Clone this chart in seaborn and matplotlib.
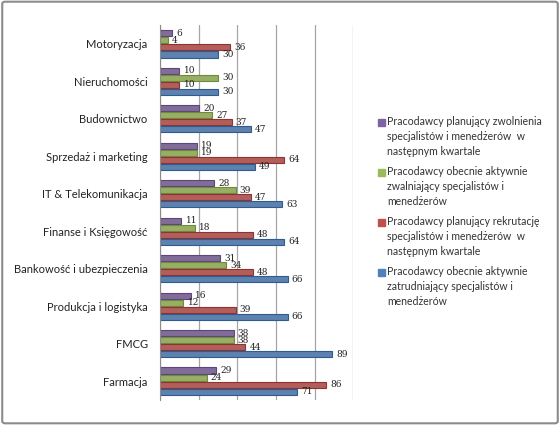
import pandas as pd
import matplotlib.pyplot as plt
import matplotlib.patches as mpatches
import seaborn as sns

# Sectors, top to bottom
sectors = ["Motoryzacja", "Nieruchomości", "Budownictwo", "Sprzedaż i marketing",
           "IT & Telekomunikacja", "Finanse i Księgowość", "Bankowość i ubezpieczenia",
           "Produkcja i logistyka", "FMCG", "Farmacja"]

# Series values (percent of employers)
planned_layoffs = [6, 10, 20, 19, 28, 11, 31, 16, 38, 29]
current_layoffs = [4, 30, 27, 19, 39, 18, 34, 12, 38, 24]
planned_hiring = [36, 10, 37, 64, 47, 48, 48, 39, 44, 86]
current_hiring = [30, 30, 47, 49, 63, 64, 66, 66, 89, 71]

series_names = [
    "Pracodawcy planujący zwolnienia\nspecjalistów i menedżerów  w\nnastępnym kwartale",
    "Pracodawcy obecnie aktywnie\nzwalniający specjalistów i\nmenedżerów",
    "Pracodawcy planujący rekrutację\nspecjalistów i menedżerów  w\nnastępnym kwartale",
    "Pracodawcy obecnie aktywnie\nzatrudniający specjalistów i\nmenedżerów",
]
colors = ["#8064A2", "#9BBB59", "#C0504D", "#4F81BD"]
edges = ["#5C4776", "#6F8A3C", "#8E3331", "#2F5C90"]

rows = []
for name, vals in zip(series_names, [planned_layoffs, current_layoffs, planned_hiring, current_hiring]):
    for s, v in zip(sectors, vals):
        rows.append({"sector": s, "series": name, "value": v})
df = pd.DataFrame(rows)

sns.set_style("white")
plt.rcParams['font.family'] = ['Lato', 'DejaVu Sans']

fig = plt.figure(figsize=(5.6, 4.25), dpi=100)
ax = fig.add_axes([0.286, 0.059, 0.345, 0.882])

sns.barplot(data=df, y="sector", x="value", hue="series", order=sectors,
            hue_order=series_names, palette=colors, orient="h",
            width=0.76, gap=0.15, ax=ax, legend=False, errorbar=None)

for cont, ec in zip(ax.containers, edges):
    for bar in cont:
        bar.set_edgecolor(ec)
        bar.set_linewidth(0.8)
    ax.bar_label(cont, padding=3, fontsize=6.5, family="DejaVu Serif", color="#222222")

ax.set_xlim(0, 100)
ax.set_ylim(len(sectors) - 0.5, -0.5)
ax.set_xticks(range(0, 101, 20))
ax.set_xticklabels([])
ax.xaxis.grid(True, color="#A6A6A6", linewidth=0.9)
ax.set_axisbelow(True)
ax.set_xlabel("")
ax.set_ylabel("")
for side in ["top", "right", "bottom"]:
    ax.spines[side].set_visible(False)
ax.spines["left"].set_color("#8C8C8C")
ax.tick_params(axis="y", length=0, labelsize=8, pad=9, labelcolor="#222222")
ax.set_yticks([i + 0.5 for i in range(-1, len(sectors))], minor=True)
ax.tick_params(axis="y", which="minor", length=4, color="#8C8C8C")
ax.tick_params(axis="x", length=4, color="#8C8C8C", direction="out")

# legend drawn by hand so the square sits by the first text line
for i, (c, n) in enumerate(zip(colors, series_names)):
    y_top = 1 - (116 + 50 * i) / 425
    fig.text(0.691, y_top, n, fontsize=7.6, color="#333333", va="top",
             linespacing=1.45)
    fig.patches.append(mpatches.Rectangle((0.6745, y_top - 0.0235), 0.0125, 0.0165,
                                          transform=fig.transFigure, color=c))

fig.patches.append(mpatches.FancyBboxPatch((0.004, 0.004), 0.992, 0.992,
                                           boxstyle="round,pad=0,rounding_size=0.005",
                                           transform=fig.transFigure, fill=False,
                                           edgecolor="#8C8C8C", linewidth=1.5))

fig.savefig("out.png", dpi=100)
